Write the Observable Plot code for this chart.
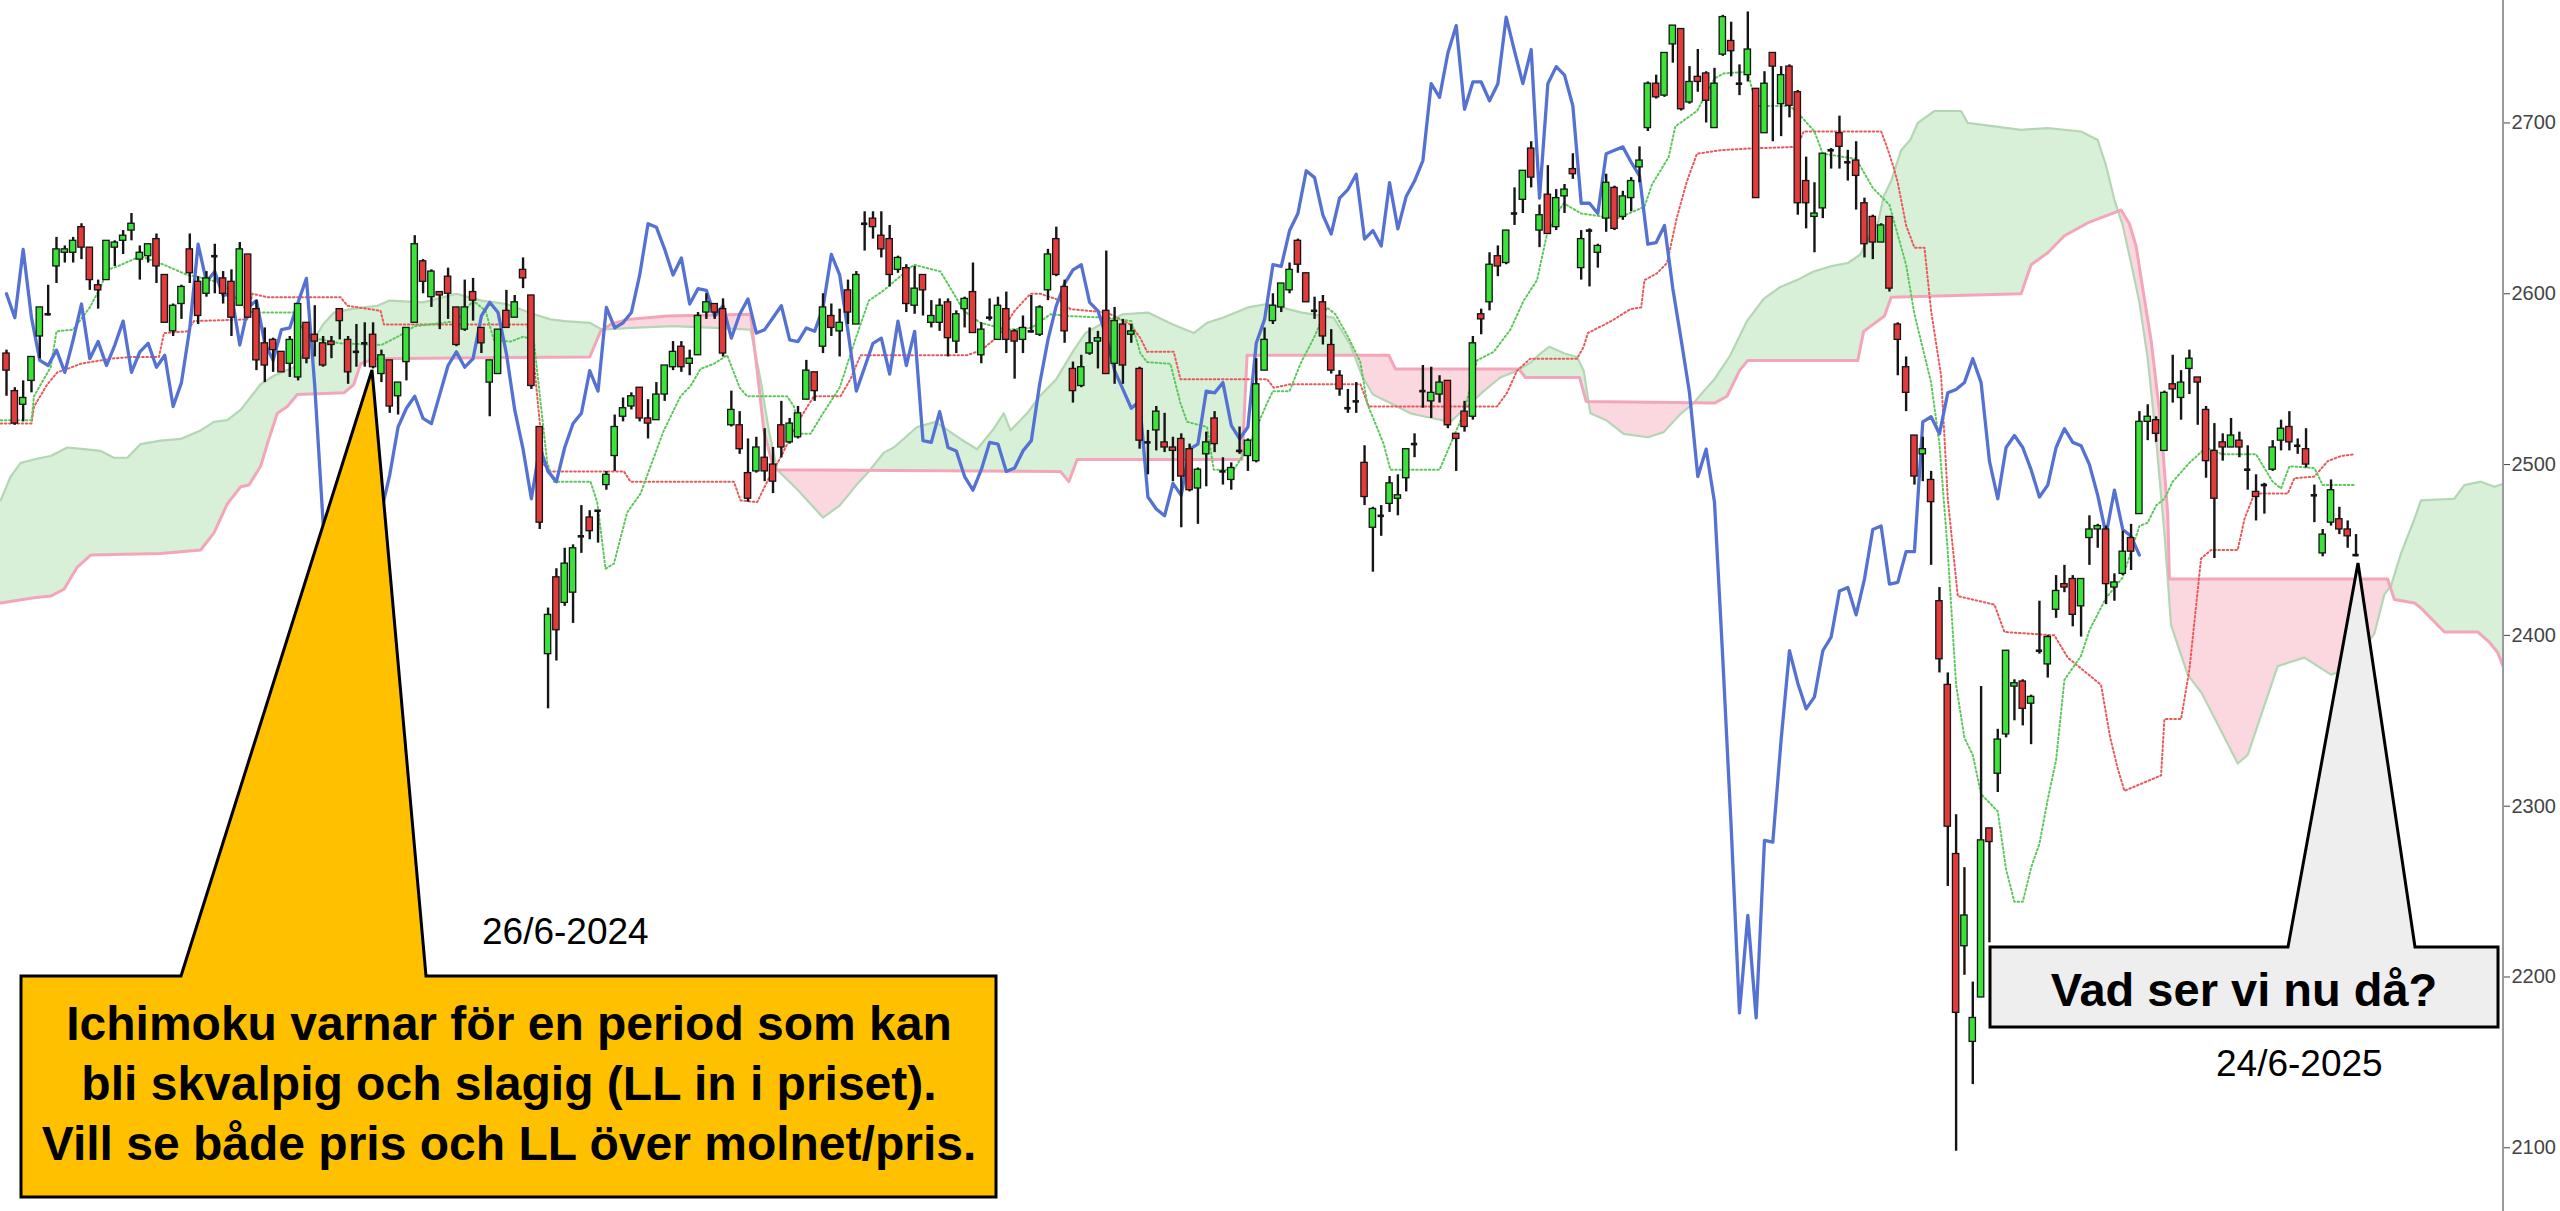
<!DOCTYPE html>
<html>
<head>
<meta charset="utf-8">
<script src="https://cdn.jsdelivr.net/npm/d3@7"></script>
<script src="https://cdn.jsdelivr.net/npm/@observablehq/plot@0.6"></script>
<style>
html,body{margin:0;padding:0;background:#fff;}
#wrap{position:relative;width:2560px;height:1211px;overflow:hidden;background:#fff;}
#wrap svg.ov{position:absolute;left:0;top:0;pointer-events:none;}
</style>
</head>
<body>
<div id="wrap"></div>
<script>
// ---- Daily candles (283 sessions, bar index 0..282) ----
const opens = [
2565,2543,2535,2549,2575,2589,2616,2624,2624,2639,
2627,2605,2608,2627,2631,2637,2620,2622,2632,2611,
2578,2594,2626,2607,2600,2621,2609,2607,2593,2623,
2591,2571,2573,2566,2559,2551,2583,2576,2571,2572,
2591,2573,2565,2570,2576,2553,2561,2540,2560,2583,
2619,2598,2601,2610,2592,2579,2601,2580,2548,2553,
2590,2586,2614,2599,2522,2389,2434,2419,2425,2457,
2469,2472,2488,2505,2528,2534,2545,2527,2526,2541,
2557,2569,2559,2564,2589,2594,2591,2523,2523,2495,
2496,2504,2500,2523,2513,2516,2538,2554,2569,2587,
2578,2602,2582,2640,2644,2634,2632,2614,2615,2593,
2611,2583,2583,2595,2572,2591,2601,2564,2587,2573,
2591,2578,2573,2578,2576,2602,2632,2604,2556,2546,
2565,2572,2590,2559,2582,2576,2556,2512,2520,2513,
2510,2515,2509,2486,2506,2527,2497,2491,2509,2505,
2502,2555,2584,2592,2602,2631,2612,2589,2595,2570,
2552,2534,2536,2501,2463,2469,2477,2480,2492,2511,
2544,2537,2541,2549,2518,2531,2528,2588,2595,2622,
2618,2646,2655,2685,2637,2658,2639,2657,2673,2615,
2636,2624,2644,2662,2645,2656,2674,2697,2723,2716,
2746,2755,2712,2727,2729,2697,2740,2748,2722,2728,
2720,2694,2741,2711,2733,2718,2666,2645,2650,2683,
2694,2676,2678,2653,2645,2630,2645,2582,2557,2517,
2506,2491,2420,2371,2272,2218,2162,2188,2287,2319,
2342,2370,2373,2360,2390,2383,2415,2430,2433,2417,
2457,2462,2462,2428,2436,2457,2471,2525,2526,2508,
2547,2539,2556,2551,2532,2508,2513,2510,2514,2498,
2484,2487,2497,2514,2522,2510,2509,2483,2448,2466,
2468,2462,2448];
const highs = [
2567,2545,2549,2563,2592,2605,2633,2628,2633,2641,
2627,2608,2631,2631,2637,2647,2628,2629,2635,2611,
2594,2605,2635,2610,2613,2629,2613,2614,2630,2623,
2596,2580,2574,2566,2575,2594,2583,2593,2575,2575,
2591,2575,2582,2583,2583,2567,2561,2548,2579,2634,
2620,2614,2601,2615,2592,2608,2609,2580,2561,2579,
2602,2599,2621,2599,2522,2416,2439,2451,2453,2476,
2473,2473,2496,2529,2539,2542,2545,2538,2548,2558,
2572,2572,2567,2589,2600,2594,2597,2543,2531,2515,
2516,2521,2510,2537,2527,2534,2561,2554,2600,2594,
2591,2608,2613,2648,2648,2648,2640,2622,2617,2616,
2611,2596,2597,2597,2590,2598,2618,2583,2597,2598,
2601,2579,2587,2599,2593,2626,2639,2608,2560,2564,
2580,2578,2625,2592,2585,2582,2557,2520,2534,2530,
2516,2518,2512,2498,2519,2531,2504,2501,2522,2515,
2562,2580,2600,2606,2618,2632,2612,2598,2599,2579,
2555,2544,2548,2511,2475,2476,2493,2494,2509,2518,
2558,2557,2552,2549,2518,2537,2575,2591,2624,2628,
2637,2662,2672,2689,2652,2675,2661,2664,2682,2637,
2638,2629,2670,2663,2660,2668,2686,2724,2728,2741,
2757,2755,2733,2743,2730,2732,2763,2759,2734,2765,
2720,2730,2741,2733,2734,2719,2680,2665,2682,2685,
2704,2684,2689,2656,2646,2641,2645,2583,2563,2517,
2516,2496,2428,2378,2295,2264,2197,2370,2287,2345,
2391,2374,2374,2365,2420,2400,2435,2441,2435,2433,
2470,2465,2464,2436,2461,2465,2531,2535,2528,2543,
2564,2555,2567,2551,2534,2524,2518,2527,2519,2511,
2494,2489,2514,2526,2531,2515,2521,2488,2462,2491,
2475,2467,2459];
const lows = [
2540,2523,2525,2542,2562,2587,2606,2618,2618,2620,
2602,2591,2608,2616,2623,2631,2608,2618,2606,2583,
2575,2585,2606,2582,2598,2600,2594,2575,2593,2586,
2555,2548,2554,2554,2551,2549,2559,2563,2557,2562,
2573,2547,2557,2557,2556,2548,2530,2529,2549,2583,
2600,2592,2579,2585,2569,2578,2584,2565,2528,2553,
2580,2586,2603,2544,2462,2357,2385,2417,2407,2448,
2456,2454,2485,2496,2525,2532,2525,2515,2526,2537,
2555,2554,2552,2564,2585,2585,2563,2522,2506,2478,
2495,2490,2483,2504,2512,2515,2538,2537,2565,2575,
2563,2582,2582,2625,2632,2621,2604,2612,2589,2588,
2587,2580,2578,2563,2565,2580,2577,2559,2584,2573,
2565,2550,2565,2577,2575,2596,2610,2571,2536,2545,
2564,2556,2553,2547,2547,2571,2509,2494,2508,2507,
2490,2463,2484,2465,2487,2507,2488,2485,2506,2496,
2501,2555,2582,2589,2600,2612,2595,2585,2570,2553,
2540,2530,2530,2476,2437,2458,2472,2470,2484,2504,
2533,2527,2536,2521,2496,2519,2526,2576,2590,2610,
2617,2640,2647,2662,2627,2635,2637,2647,2667,2608,
2604,2615,2636,2637,2643,2648,2665,2695,2714,2715,
2735,2707,2711,2718,2700,2697,2739,2727,2716,2724,
2656,2694,2689,2692,2703,2646,2638,2624,2644,2673,
2673,2666,2649,2621,2620,2630,2601,2552,2531,2488,
2490,2441,2378,2253,2098,2201,2137,2188,2220,2308,
2340,2350,2347,2336,2389,2375,2410,2425,2405,2399,
2441,2451,2418,2420,2435,2438,2471,2514,2513,2508,
2536,2526,2541,2523,2492,2445,2502,2510,2504,2485,
2467,2471,2496,2508,2508,2506,2498,2466,2446,2464,
2459,2451,2446];
const closes = [
2555,2524,2539,2563,2592,2588,2626,2626,2631,2627,
2608,2602,2631,2630,2634,2641,2624,2629,2616,2583,
2593,2604,2612,2587,2609,2622,2600,2586,2626,2586,
2561,2558,2567,2554,2573,2594,2562,2572,2558,2570,
2584,2554,2566,2571,2557,2564,2534,2548,2580,2629,
2607,2613,2599,2600,2570,2592,2596,2571,2561,2579,
2580,2595,2609,2546,2466,2412,2403,2442,2451,2458,
2461,2473,2494,2522,2533,2540,2527,2524,2541,2558,
2566,2557,2562,2587,2595,2589,2565,2532,2509,2480,
2510,2496,2490,2510,2524,2530,2555,2543,2592,2580,
2583,2589,2611,2641,2639,2626,2611,2621,2594,2603,
2602,2587,2593,2574,2588,2597,2577,2579,2586,2593,
2573,2572,2580,2578,2592,2623,2611,2578,2543,2557,
2571,2574,2553,2584,2558,2578,2514,2513,2531,2510,
2508,2493,2485,2497,2513,2512,2496,2498,2508,2514,
2547,2573,2593,2606,2614,2617,2595,2590,2575,2555,
2544,2533,2537,2481,2474,2470,2489,2482,2509,2512,
2543,2542,2548,2523,2515,2522,2571,2585,2617,2616,
2637,2647,2672,2668,2646,2635,2656,2661,2670,2632,
2637,2628,2665,2638,2657,2666,2678,2723,2715,2741,
2757,2708,2724,2724,2713,2723,2762,2742,2723,2743,
2656,2723,2733,2728,2710,2653,2653,2647,2682,2684,
2686,2677,2669,2629,2630,2640,2603,2573,2542,2493,
2509,2478,2386,2288,2179,2236,2176,2280,2279,2339,
2391,2372,2357,2364,2391,2399,2426,2428,2412,2433,
2462,2464,2430,2431,2449,2449,2525,2528,2518,2542,
2544,2548,2562,2548,2502,2480,2510,2517,2510,2497,
2481,2488,2510,2521,2513,2511,2500,2482,2459,2485,
2462,2458,2447];

// ---- Ichimoku lines: [bar, value] ----
const tenkan = [[-0.7,2526],[3,2526],[3.3,2540],[5.3,2557],[6,2578],[8,2579],[10,2592],[11.3,2604],[12.1,2614],[13.3,2616],[16.1,2622],[18.9,2617],[21.7,2611],[22.9,2610],[26,2606],[28.9,2590],[29.7,2589],[34.5,2589],[36,2575],[40,2571],[45,2570],[47,2575],[49,2581],[54,2584],[56,2596],[57.5,2590],[58.5,2573],[60.5,2572],[62.1,2575],[63.3,2572],[64.9,2501],[65.7,2490],[70.1,2490],[70.9,2478],[71.9,2439],[72.9,2442],[74.5,2472],[76.1,2483],[77.3,2499],[78.9,2520],[80.9,2540],[82.1,2546],[83.3,2556],[84.9,2559],[86.5,2564],[88,2545],[88.9,2540],[93.7,2540],[94.5,2534],[95.3,2518],[96.5,2518],[98,2530],[100,2545],[102,2575],[103.5,2596],[105.3,2602],[108.9,2617],[112.1,2613],[113.7,2600],[114.9,2590],[116.9,2583],[120.1,2579],[123,2580],[125.3,2588],[127.3,2587],[132,2586],[135,2584],[136.1,2565],[136.9,2560],[139.7,2559],[140.9,2536],[141.7,2525],[144.1,2522],[144.9,2497],[147.3,2497],[149,2510],[151.3,2536],[152,2543],[154,2543],[155.3,2559],[157,2575],[158.5,2592],[159.5,2588],[161,2575],[162.5,2560],[163.3,2536],[165.3,2512],[166.1,2497],[172,2497],[174.9,2530],[176.5,2561],[178.5,2566],[180.5,2579],[182.1,2596],[183.7,2608],[184.9,2635],[186.1,2647],[186.9,2653],[189,2647],[193.3,2644],[196.6,2651],[197.5,2664],[199.5,2680],[200.3,2698],[202.9,2707],[205,2726],[206.1,2729],[209,2730],[210,2710],[214,2710],[215,2706],[217,2695],[218,2682],[222,2679],[224,2662],[226,2652],[228,2617],[229,2588],[231,2548],[232,2512],[233,2449],[234,2371],[235,2340],[236,2330],[237,2307],[239,2297],[240,2263],[241,2244],[242,2244],[243,2264],[244,2278],[245,2304],[246,2327],[247,2374],[249,2388],[250,2403],[252,2422],[254,2434],[256,2464],[257,2466],[258,2476],[259,2480],[260,2490],[262,2501],[264,2510],[266,2506],[270,2506],[271,2498],[272,2490],[273,2486],[274,2499],[277,2498],[278,2488],[282,2488]];
const kijun = [[-0.7,2524],[3,2524],[3.3,2534],[4.9,2547],[6.1,2554],[7.3,2556],[8.9,2559],[12.5,2562],[14.9,2563],[18.3,2563],[18.9,2577],[21.7,2578],[22.5,2584],[28.9,2585],[29.5,2600],[31.3,2598],[40.1,2598],[40.9,2593],[44.9,2590],[45.3,2582],[62.5,2582],[63.3,2560],[64.5,2500],[65.2,2496],[74.1,2496],[74.9,2490],[87.3,2490],[88.1,2479],[90.1,2478],[91.5,2492],[93,2505],[95,2525],[96.9,2540],[100.1,2540],[101.3,2550],[102.5,2564],[115.3,2564],[117,2567],[119,2575],[121,2590],[122.9,2600],[124.1,2600],[126.5,2596],[127.7,2591],[132.1,2589],[134.9,2582],[136.1,2574],[136.9,2566],[140.1,2566],[140.9,2550],[151.3,2550],[152.1,2545],[154.1,2547],[162.5,2547],[163.5,2534],[178.9,2534],[180.1,2542],[181.3,2555],[182.9,2562],[188.5,2562],[189.3,2569],[189.8,2577],[192.6,2584],[194.9,2591],[196.2,2592],[196.6,2608],[198.1,2612],[199.3,2618],[200.5,2645],[201.7,2666],[202.9,2682],[205.7,2684],[208.9,2685],[214.9,2686],[215.7,2695],[225,2695],[225.7,2686],[226.5,2674],[227,2665],[228,2640],[229,2627],[230.2,2627],[231,2590],[232.2,2552],[233,2480],[234.2,2423],[238.6,2418],[239.8,2402],[245.8,2400],[247.4,2387],[251.4,2371],[252.5,2340],[253.4,2322],[254.2,2309],[258.6,2318],[259,2351],[261,2351],[262,2380],[263.4,2445],[264.6,2450],[267.8,2450],[268.6,2468],[269.8,2483],[273.8,2483],[274.6,2492],[277,2493],[278.6,2502],[280.2,2505],[281.8,2506]];
const spanA = [[-0.7,2479],[0.5,2493],[1.7,2501],[3.3,2503],[5.3,2505],[7.3,2510],[9.3,2509],[11.3,2508],[12.9,2504],[14.5,2504],[16.1,2512],[18.5,2514],[20.9,2515],[23.3,2520],[24.9,2525],[26.5,2526],[28.1,2532],[29.7,2542],[30.5,2547],[32.1,2552],[34.5,2557],[36.5,2570],[38,2582],[39.3,2589],[41.3,2591],[44.5,2593],[46,2596],[50,2595],[54,2600],[57,2596],[60,2594],[63.3,2588],[65.3,2585],[67,2584],[70,2583],[71.5,2579],[75,2580],[80,2581],[85,2580],[89.3,2579],[90.5,2550],[91.5,2520],[92.5,2497],[95,2485],[98,2469],[100,2476],[102,2488],[103.5,2496],[105.3,2507],[106.5,2510],[109.3,2522],[111.5,2525],[114.5,2515],[116.5,2509],[118.5,2521],[119.7,2530],[120.5,2520],[122.5,2530],[124,2540],[126,2550],[128.1,2567],[129.5,2577],[131.3,2582],[134,2588],[137,2589],[140,2582],[142.5,2577],[144.1,2583],[146,2586],[149,2592],[151.3,2594],[155.5,2589],[159.3,2586],[161.3,2570],[162.7,2552],[164,2541],[166.5,2535],[168.5,2530],[171.3,2527],[173.3,2525],[175.3,2534],[177.3,2543],[179.3,2551],[181.3,2555],[183,2560],[184.1,2565],[185.2,2569],[187,2565],[188.5,2563],[189.3,2555],[190.1,2530],[192,2526],[194.1,2518],[197,2516],[198.9,2519],[201,2530],[202.5,2536],[203.7,2543],[205,2550],[206.9,2564],[208.9,2584],[210.9,2597],[212.9,2604],[214.9,2608],[216.9,2613],[218.9,2616],[221,2618],[222.5,2623],[223.7,2635],[224.6,2641],[225.3,2657],[226.2,2666],[227.4,2684],[228.5,2690],[229.4,2700],[231.4,2707],[234.6,2707],[235.4,2700],[241.8,2696],[245,2697],[249,2695],[251,2690],[252,2675],[253,2655],[254,2640],[255,2618],[256,2595],[257,2562],[258,2515],[259,2460],[259.8,2406],[261.8,2377],[263.5,2366],[265.4,2348],[267.8,2325],[269,2330],[271,2359],[272.6,2382],[275.8,2387],[279,2377],[281,2380],[284.2,2401],[285.4,2424],[286.2,2429],[287.4,2448],[289,2468],[289.8,2479],[293.8,2480],[295,2488],[297,2490],[298.6,2487],[299.8,2489]];
const spanB = [[-0.7,2419],[3.3,2422],[5.3,2423],[6.9,2427],[8.5,2440],[10.1,2447],[18.5,2448],[23.3,2450],[24.9,2460],[26.5,2477],[28.1,2487],[29.1,2488],[30.5,2499],[31.3,2512],[32.5,2530],[33.7,2534],[34.9,2541],[40.5,2542],[41.7,2547],[42.5,2559],[44.1,2562],[70,2563],[71.3,2578],[72.5,2582],[74.5,2585],[79.3,2587],[89.3,2588],[90.1,2555],[90.9,2520],[92.1,2497],[126.5,2496],[127.5,2490],[128.5,2503],[148.3,2503],[148.9,2564],[165.9,2564],[166.7,2556],[181.5,2556],[182.3,2551],[188.8,2551],[189.6,2537],[205,2536],[206.5,2540],[208,2555],[209,2561],[222.2,2561],[222.9,2578],[225.4,2587],[226.2,2598],[241.8,2600],[243,2617],[245,2624],[247,2634],[250,2642],[253.8,2649],[254.8,2641],[255.6,2628],[256.5,2600],[257.4,2573],[258.6,2523],[259.4,2471],[259.6,2433],[285.8,2433],[286.6,2421],[289,2419],[289.8,2416],[292.6,2402],[296.6,2402],[298,2396],[299,2390],[299.8,2380]];

const yTicks = [2100, 2200, 2300, 2400, 2500, 2600, 2700];
const chikouShift = 26;

// ---- derived tables ----
const bars = opens.map((o, i) => ({i, o, h: highs[i], l: lows[i], c: closes[i]}));
const bodies = bars.filter(d => Math.abs(d.c - d.o) >= 1.5);
const dojis = bars.filter(d => Math.abs(d.c - d.o) < 1.5);
const chikou = closes.slice(chikouShift).map((c, k) => ({i: k, c}));

function at(pts, x) {
  if (x <= pts[0][0]) return pts[0][1];
  for (let k = 1; k < pts.length; k++) {
    if (x <= pts[k][0]) {
      const [x0, y0] = pts[k - 1], [x1, y1] = pts[k];
      return y0 + (y1 - y0) * (x - x0) / (x1 - x0);
    }
  }
  return pts[pts.length - 1][1];
}
const xsSet = new Set();
for (let x = -0.72; x <= 299.85; x += 0.05) xsSet.add(+x.toFixed(2));
spanA.forEach(p => xsSet.add(p[0])); spanB.forEach(p => xsSet.add(p[0]));
const cloud = [...xsSet].sort((a, b) => a - b).map(x => {
  const a = at(spanA, x), b = at(spanB, x);
  return {x, a, b, top: Math.max(a, b)};
});

const GREEN = "#3ae23a", RED = "#e23b3b";
const HW = 0.38;

const plot = Plot.plot({
  width: 2560,
  height: 1211,
  marginLeft: 0,
  marginRight: 57,
  marginTop: 0,
  marginBottom: 0,
  style: {fontFamily: "'Liberation Sans', Arial, sans-serif", fontSize: "20px", color: "#444", background: "#fff"},
  x: {domain: [-0.72, 299.7], axis: null},
  y: {domain: [2062.7, 2771.7], axis: "right", ticks: yTicks, tickSize: 6, tickPadding: 2, tickFormat: d => String(d), label: null},
  marks: [
    Plot.areaY(cloud, {x: "x", y1: "b", y2: "top", fill: "#d7f0d7", clip: true}),
    Plot.areaY(cloud, {x: "x", y1: "a", y2: "top", fill: "#fbd7e0", clip: true}),
    Plot.line(spanA, {x: d => d[0], y: d => d[1], stroke: "#b4d6b4", strokeWidth: 2.2, clip: true}),
    Plot.line(spanB, {x: d => d[0], y: d => d[1], stroke: "#f3a6b9", strokeWidth: 3, clip: true}),
    Plot.line(kijun, {x: d => d[0], y: d => d[1], stroke: "#e85a5a", strokeWidth: 2, strokeDasharray: "1.6 2.6", clip: true}),
    Plot.line(tenkan, {x: d => d[0], y: d => d[1], stroke: "#5cc85c", strokeWidth: 2, strokeDasharray: "1.6 2.6", clip: true}),
    Plot.line(chikou, {x: "i", y: "c", stroke: "#5572d2", strokeWidth: 3.3, strokeLinejoin: "round", clip: true}),
    Plot.ruleX(bars, {x: "i", y1: "l", y2: "h", stroke: "#151515", strokeWidth: 2.4}),
    Plot.rect(bodies, {
      x1: d => d.i - HW, x2: d => d.i + HW,
      y1: d => Math.min(d.o, d.c), y2: d => Math.max(d.o, d.c),
      fill: d => d.c > d.o ? GREEN : RED, stroke: "#151515", strokeWidth: 1.3
    }),
    Plot.ruleY(dojis, {y: "c", x1: d => d.i - HW, x2: d => d.i + HW, stroke: "#151515", strokeWidth: 2.6})
  ]
});

const wrap = document.getElementById("wrap");
wrap.appendChild(plot);

// ---- overlay: axis line + callouts (annotation layer) ----
const xEdge = plot.scale("x").range[1];
const ov = d3.create("svg").attr("class", "ov").attr("width", 2560).attr("height", 1211)
  .attr("viewBox", "0 0 2560 1211");
ov.append("line").attr("x1", xEdge).attr("x2", xEdge).attr("y1", 0).attr("y2", 1211)
  .attr("stroke", "#9a9a9a").attr("stroke-width", 2);

ov.append("path")
  .attr("d", "M21,976 L181,976 L372,370 L426,976 L996,976 L996,1197 L21,1197 Z")
  .attr("fill", "#ffc000").attr("stroke", "#000").attr("stroke-width", 3).attr("stroke-linejoin", "miter");
ov.append("path")
  .attr("d", "M1990,947 L2288,947 L2358,563 L2415,947 L2498,947 L2498,1027 L1990,1027 Z")
  .attr("fill", "#eeeeee").attr("stroke", "#000").attr("stroke-width", 3);

const boldFont = "'Liberation Sans', Arial, sans-serif";
const yellowLines = [
  "Ichimoku varnar för en period som kan",
  "bli skvalpig och slagig (LL in i priset).",
  "Vill se både pris och LL över molnet/pris."
];
yellowLines.forEach((t, k) => {
  ov.append("text").attr("x", 509).attr("y", 1023 + k * 60)
    .attr("text-anchor", "middle").attr("dominant-baseline", "central")
    .attr("font-family", boldFont).attr("font-weight", "bold").attr("font-size", 48)
    .attr("fill", "#000").text(t);
});
ov.append("text").attr("x", 2244).attr("y", 989)
  .attr("text-anchor", "middle").attr("dominant-baseline", "central")
  .attr("font-family", boldFont).attr("font-weight", "bold").attr("font-size", 47)
  .attr("fill", "#000").text("Vad ser vi nu då?");
ov.append("text").attr("x", 482).attr("y", 931)
  .attr("dominant-baseline", "central")
  .attr("font-family", boldFont).attr("font-size", 37).attr("fill", "#000").text("26/6-2024");
ov.append("text").attr("x", 2216).attr("y", 1063)
  .attr("dominant-baseline", "central")
  .attr("font-family", boldFont).attr("font-size", 37).attr("fill", "#000").text("24/6-2025");

wrap.appendChild(ov.node());
</script>
</body>
</html>
